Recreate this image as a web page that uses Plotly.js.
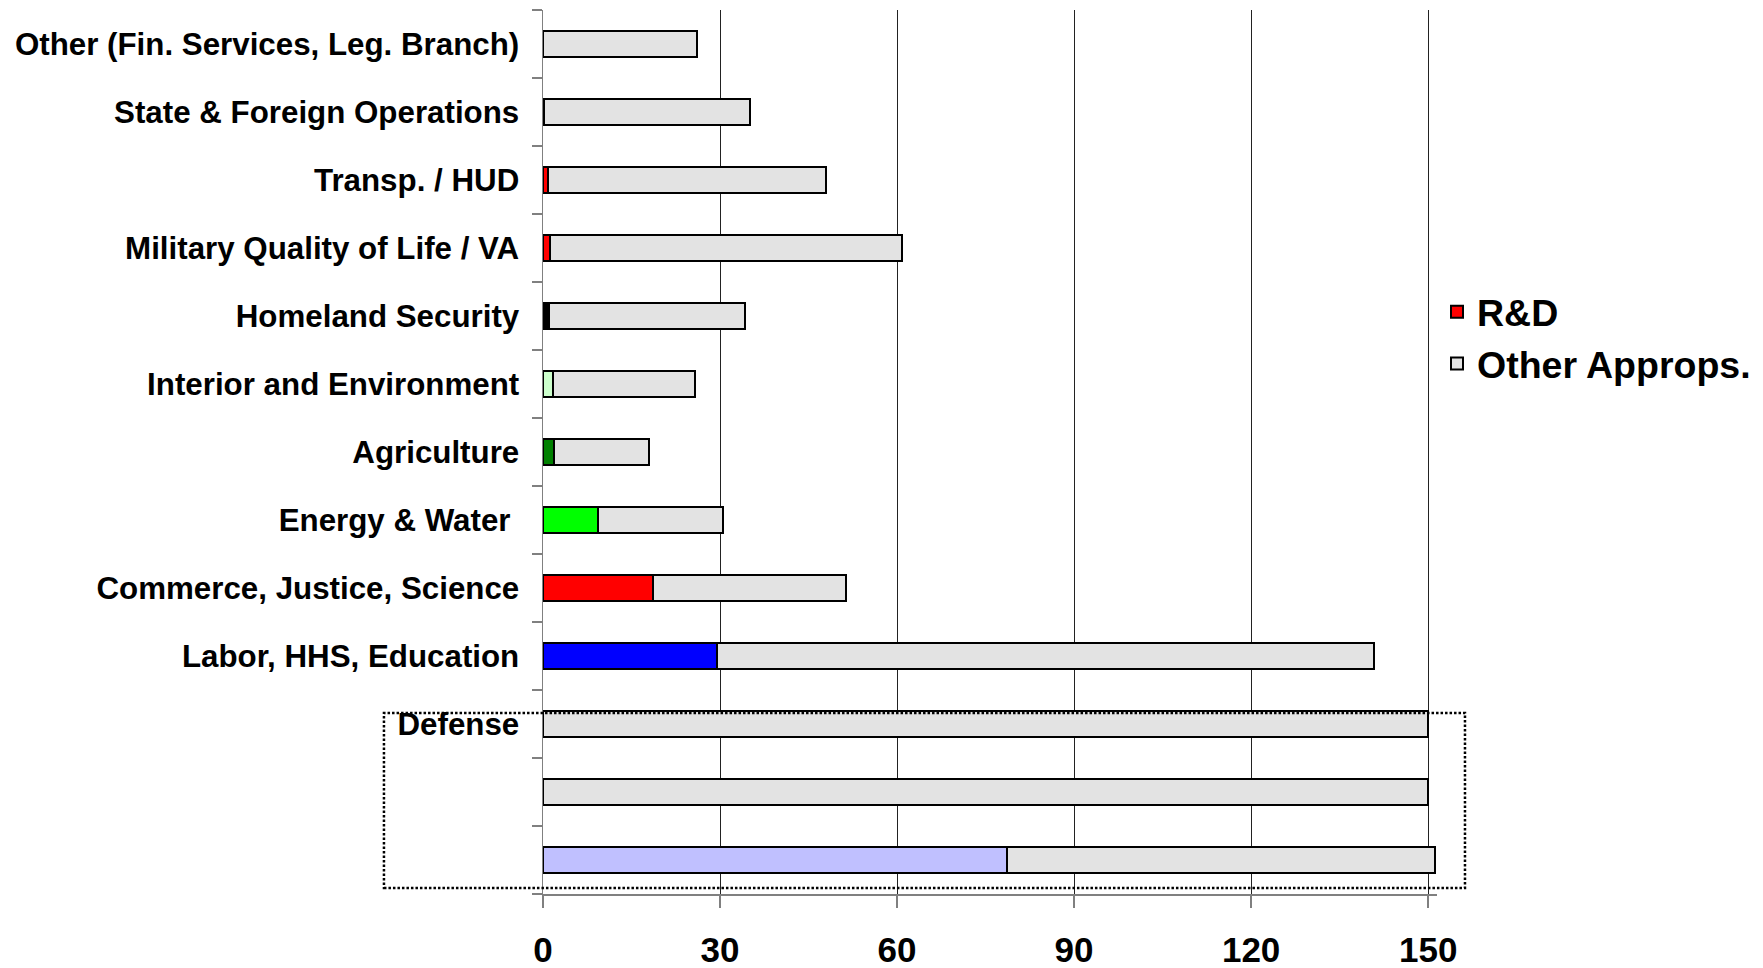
<!DOCTYPE html>
<html>
<head>
<meta charset="utf-8">
<script src="https://cdn.plot.ly/plotly-3.0.1.min.js"></script>
<style>
html,body{margin:0;padding:0;background:#fff;}
#chart{width:1763px;height:968px;}
</style>
</head>
<body>
<div id="chart"></div>
<script>
// Category ids (top to bottom) and their displayed labels
var categoryIds = [
  "Other", "State", "Transp", "Military", "Homeland", "Interior",
  "Agriculture", "Energy", "Commerce", "Labor", "Defense1", "Defense2", "Defense3"
];
var categoryLabels = [
  "Other (Fin. Services, Leg. Branch)",
  "State & Foreign Operations",
  "Transp. / HUD",
  "Military Quality of Life / VA",
  "Homeland Security",
  "Interior and Environment",
  "Agriculture",
  "Energy & Water ",
  "Commerce, Justice, Science",
  "Labor, HHS, Education",
  "Defense",
  "",
  ""
];
// R&D portion (billions)
var rdValues = [0, 0.2, 0.9, 1.2, 1.1, 1.7, 1.9, 9.3, 18.6, 29.5, 0, 0, 78.6];
// Other appropriations portion (billions)
var otherValues = [26.1, 34.8, 47.1, 59.7, 33.2, 24.0, 16.0, 21.2, 32.8, 111.4, 149.9, 149.9, 72.5];
// R&D segment colours, one per subcommittee
var rdColors = [
  "#ff0000", "#ff0000", "#ff0000", "#ff0000", "#000000", "#ccffcc",
  "#008000", "#00ff00", "#ff0000", "#0000ff", "#c0c0ff", "#c0c0ff", "#c0c0ff"
];
var xTickVals = [0, 30, 60, 90, 120, 150];

var FONT = "Liberation Sans, Arial, Helvetica, sans-serif";

var traces = [
  {
    type: "bar", orientation: "h", name: "R&D",
    y: categoryIds, x: rdValues,
    marker: {color: rdColors, line: {color: "#000000", width: 2}},
    legendgroup: "a", hoverinfo: "skip"
  },
  {
    type: "bar", orientation: "h", name: "Other Approps.",
    y: categoryIds, x: otherValues,
    marker: {color: "#e3e3e3", line: {color: "#000000", width: 2}},
    legendgroup: "b", hoverinfo: "skip"
  }
];

var layout = {
  width: 1763, height: 968,
  margin: {l: 543, r: 326, t: 10, b: 74, pad: 0, autoexpand: false},
  paper_bgcolor: "#ffffff", plot_bgcolor: "#ffffff",
  barmode: "stack", bargap: 0.63,
  font: {family: FONT, color: "#000000"},
  xaxis: {
    range: [0, 151.5], tickvals: xTickVals, ticktext: xTickVals.map(String),
    showgrid: true, gridcolor: "#222222", gridwidth: 1,
    zeroline: false, showline: true, linecolor: "#808080", linewidth: 1.5,
    ticks: "outside", ticklen: 12, tickcolor: "#808080", tickwidth: 1.5,
    ticklabelstandoff: 12, automargin: false,
    tickfont: {family: FONT, size: 35, weight: "bold", color: "#000000"}
  },
  yaxis: {
    type: "category", categoryorder: "array", categoryarray: categoryIds,
    autorange: "reversed", tickmode: "array",
    tickvals: categoryIds, ticktext: categoryLabels,
    tickson: "boundaries", ticks: "outside", ticklen: 10,
    tickcolor: "#808080", tickwidth: 1.5,
    showline: true, linecolor: "#808080", linewidth: 1.5,
    showgrid: false, zeroline: false, automargin: false,
    ticklabelstandoff: 16,
    tickfont: {family: FONT, size: 31.3, weight: "bold", color: "#000000"}
  },
  legend: {
    x: 1.0, xanchor: "left", y: 0.629, yanchor: "middle",
    traceorder: "grouped", tracegroupgap: 0,
    font: {family: FONT, size: 37.5, weight: "bold", color: "#000000"},
    bgcolor: "rgba(0,0,0,0)", borderwidth: 0
  },
  shapes: [
    {
      type: "rect", xref: "paper", yref: "paper",
      x0: -0.1779, x1: 1.0313, y0: 0.0068, y1: 0.2048,
      line: {color: "#000000", width: 2.5, dash: "2.5px,2px"},
      fillcolor: "rgba(0,0,0,0)", layer: "above"
    }
  ],
  showlegend: true
};

Plotly.newPlot("chart", traces, layout, {displayModeBar: false, staticPlot: true});
</script>
</body>
</html>
